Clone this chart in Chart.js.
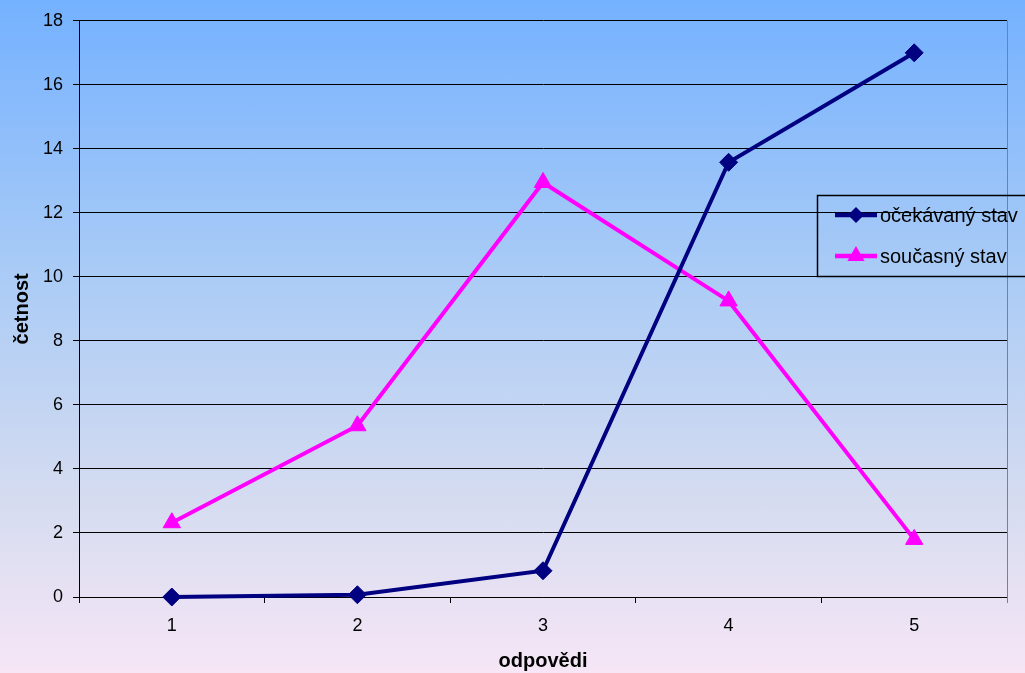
<!DOCTYPE html>
<html>
<head>
<meta charset="utf-8">
<script src="https://cdn.jsdelivr.net/npm/chart.js@4.4.1/dist/chart.umd.min.js"></script>
<style>
  html, body { margin: 0; padding: 0; }
  body {
    width: 1025px; height: 673px; overflow: hidden;
    background: linear-gradient(to bottom, #74b1ff 0%, #a9cbf6 40%, #d6dcf0 75%, #f6e6f6 100%);
  }
  #wrap { position: relative; width: 1025px; height: 673px; }
</style>
</head>
<body>
<div id="wrap"><canvas id="c" width="1025" height="673"></canvas></div>
<script>
const categories = ['1', '2', '3', '4', '5'];
const expectedLabel = 'očekávaný stav';
const currentLabel = 'současný stav';
const expectedValues = [0, 0.07, 0.82, 13.58, 17.0];
const currentValues = [2.32, 5.35, 12.95, 9.25, 1.8];
const yTitle = 'četnost';
const xTitle = 'odpovědi';

const FONT = "'Liberation Sans', Arial, sans-serif";

const frameAndLegend = {
  id: 'frameAndLegend',
  afterDraw(chart) {
    const ctx = chart.ctx;
    const a = chart.chartArea;
    ctx.save();
    // right border of plot
    ctx.strokeStyle = '#808080';
    ctx.lineWidth = 1;
    ctx.beginPath();
    ctx.moveTo(Math.round(a.right) + 0.5, a.top);
    ctx.lineTo(Math.round(a.right) + 0.5, a.bottom + 6);
    ctx.stroke();

    // legend box
    const bx = 817.5, by = 195.5, bw = 240, bh = 81;
    ctx.strokeStyle = '#000';
    ctx.lineWidth = 1.5;
    ctx.strokeRect(bx, by, bw, bh);

    const rows = [215, 256];
    chart.data.datasets.forEach((ds, i) => {
      const y = rows[i];
      ctx.strokeStyle = ds.borderColor;
      ctx.lineWidth = 4.5;
      ctx.beginPath();
      ctx.moveTo(835, y);
      ctx.lineTo(877, y);
      ctx.stroke();
      ctx.fillStyle = ds.pointBackgroundColor;
      const cx = 856;
      ctx.beginPath();
      if (ds.pointStyle === 'rectRot') {
        const r = 8;
        ctx.moveTo(cx, y - r); ctx.lineTo(cx + r, y); ctx.lineTo(cx, y + r); ctx.lineTo(cx - r, y);
      } else {
        const r = 10;
        ctx.moveTo(cx, y - r);
        ctx.lineTo(cx + r * Math.sin(Math.PI / 3), y + r / 2);
        ctx.lineTo(cx - r * Math.sin(Math.PI / 3), y + r / 2);
      }
      ctx.closePath();
      ctx.fill();
      ctx.fillStyle = '#000';
      ctx.font = '20px ' + FONT;
      ctx.textBaseline = 'middle';
      ctx.textAlign = 'left';
      ctx.fillText(ds.label, 880, y + 1);
    });
    ctx.restore();
  }
};

new Chart(document.getElementById('c'), {
  type: 'line',
  data: {
    labels: categories,
    datasets: [
      {
        label: expectedLabel,
        data: expectedValues,
        borderColor: '#000080',
        backgroundColor: '#000080',
        pointBackgroundColor: '#000080',
        pointBorderColor: '#000080',
        borderWidth: 4,
        pointStyle: 'rectRot',
        pointRadius: 9,
        pointBorderWidth: 1,
        tension: 0,
        fill: false,
        clip: false
      },
      {
        label: currentLabel,
        data: currentValues,
        borderColor: '#ff00ff',
        backgroundColor: '#ff00ff',
        pointBackgroundColor: '#ff00ff',
        pointBorderColor: '#ff00ff',
        borderWidth: 4,
        pointStyle: 'triangle',
        pointRadius: 10,
        pointBorderWidth: 1,
        tension: 0,
        fill: false,
        clip: false
      }
    ]
  },
  options: {
    responsive: false,
    animation: false,
    events: [],
    layout: { padding: { top: 19, right: 18, left: 0, bottom: 0 } },
    plugins: {
      legend: { display: false },
      tooltip: { enabled: false },
      title: { display: false }
    },
    scales: {
      x: {
        offset: true,
        afterFit(scale) { scale.height = 76; },
        grid: {
          offset: true,
          drawOnChartArea: false,
          drawTicks: true,
          tickLength: 6,
          color: '#000',
          lineWidth: 1
        },
        border: { color: '#000', width: 1 },
        ticks: {
          color: '#000',
          font: { family: FONT, size: 18 },
          padding: 12,
          maxRotation: 0
        },
        title: {
          display: true,
          text: xTitle,
          color: '#000',
          font: { family: FONT, size: 20, weight: 'bold' },
          padding: { top: 0, bottom: 0 }
        }
      },
      y: {
        min: 0,
        max: 18,
        afterFit(scale) { scale.width = 79; },
        grid: {
          color: '#000',
          lineWidth: 1,
          tickLength: 6,
          drawTicks: true
        },
        border: { color: '#000', width: 1 },
        ticks: {
          stepSize: 2,
          color: '#000',
          font: { family: FONT, size: 18 },
          padding: 10
        },
        title: {
          display: true,
          text: yTitle,
          color: '#000',
          font: { family: FONT, size: 20, weight: 'bold' },
          padding: { top: 10, bottom: 0 }
        }
      }
    }
  },
  plugins: [frameAndLegend]
});
</script>
</body>
</html>
